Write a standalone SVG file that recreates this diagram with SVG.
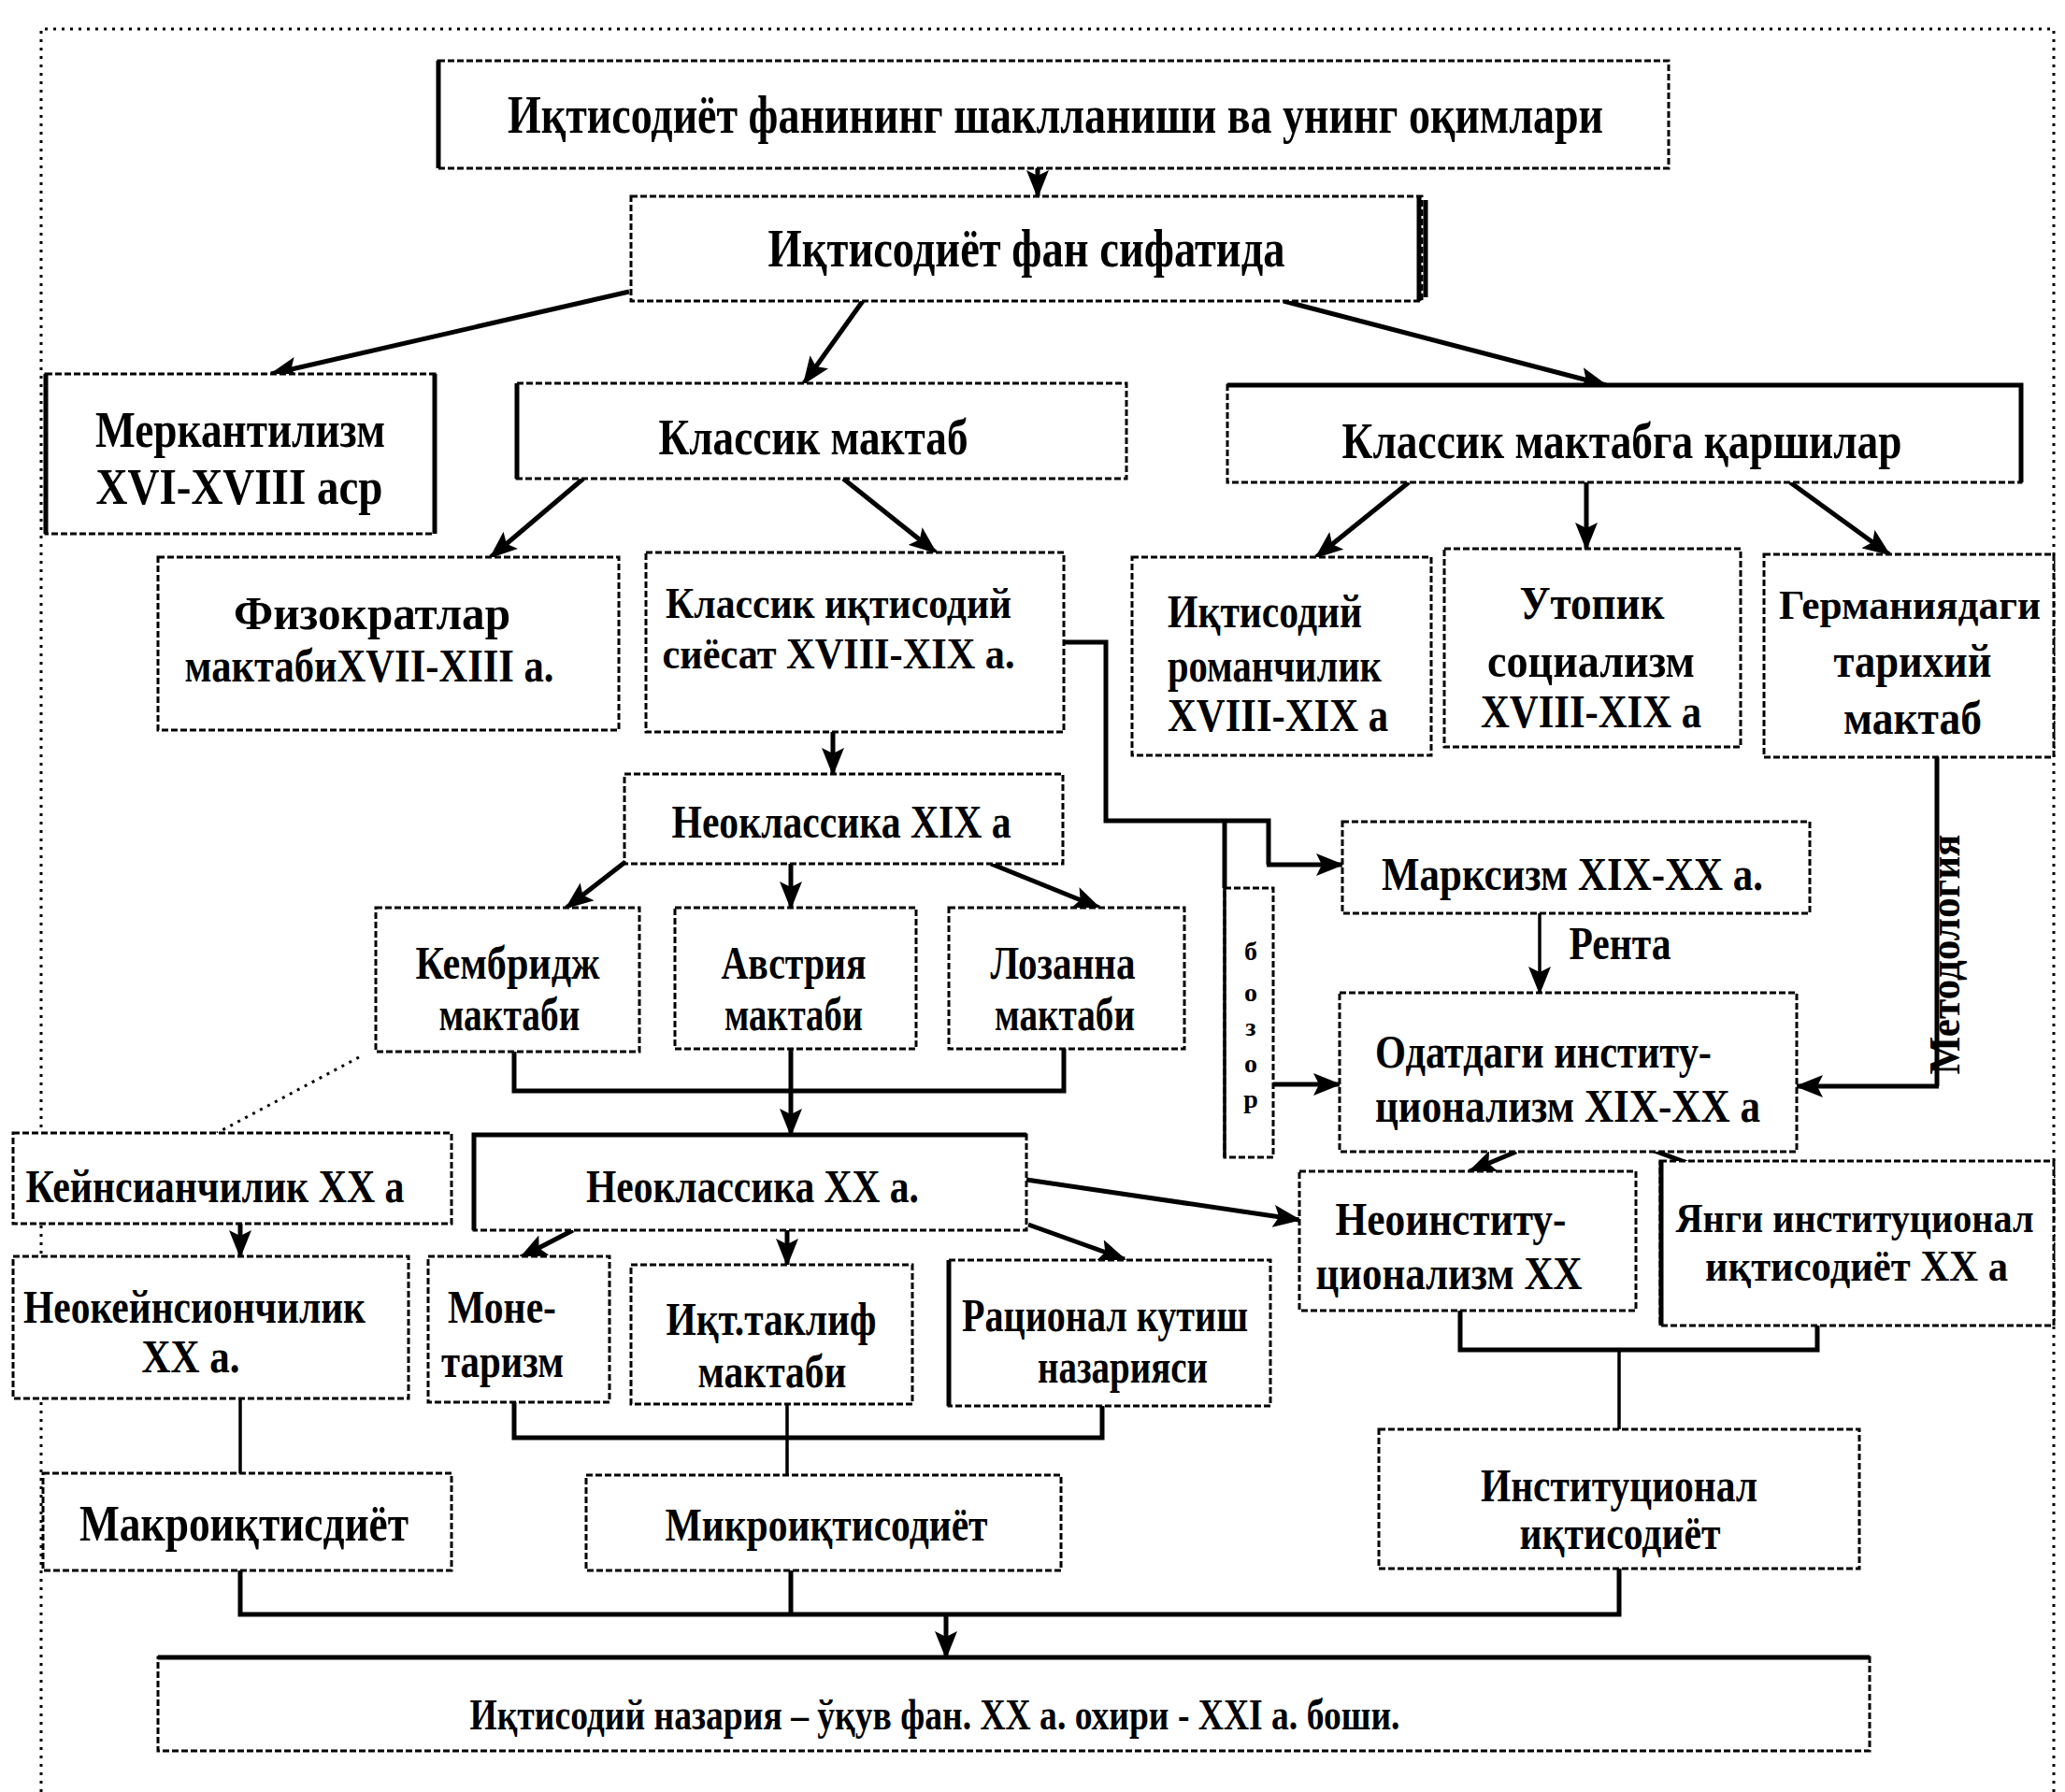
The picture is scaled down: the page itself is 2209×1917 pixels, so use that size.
<svg xmlns="http://www.w3.org/2000/svg" width="2209" height="1917" viewBox="0 0 2209 1917">
<defs>
<marker id="ah" markerUnits="userSpaceOnUse" markerWidth="30" markerHeight="24" refX="28" refY="12" orient="auto">
<path d="M0,0 L30,12 L0,24 L6,12 Z" fill="#000"/>
</marker>
<style>
.box{fill:#fff;stroke:#000;stroke-width:3;stroke-dasharray:7 3}
.hv{fill:none;stroke:#000;stroke-width:5}
.ln{fill:none;stroke:#000;stroke-width:5}
.lt{fill:none;stroke:#000;stroke-width:3.5}
.ar{fill:none;stroke:#000;stroke-width:5;marker-end:url(#ah)}
.art{fill:none;stroke:#000;stroke-width:3.5;marker-end:url(#ah)}
.dot{fill:none;stroke:#000;stroke-width:3;stroke-dasharray:3 6}
text{font-family:"Liberation Serif","DejaVu Serif",serif;font-weight:bold;fill:#000;text-anchor:middle}
.t50{font-size:58px}
.t46{font-size:54px}
.t42{font-size:50px}
.t40{font-size:46px}
.t38{font-size:44px}
.st{text-anchor:start}
.b{font-size:28px}
</style>
</defs>
<rect width="2209" height="1917" fill="#fff"/>
<path class="dot" d="M44,1917 V31 H2197 V1917"/>

<g id="connectors">
<path class="ar" d="M1110,180 V210"/>
<path class="ar" d="M673,312 L290,400"/>
<path class="ar" d="M923,322 L860,410"/>
<path class="ar" d="M1373,322 L1718,412"/>
<path class="ar" d="M624,512 L525,596"/>
<path class="ar" d="M902,512 L1001,591"/>
<path class="ar" d="M1507,516 L1408,596"/>
<path class="ar" d="M1697,516 V587"/>
<path class="ar" d="M1915,516 L2021,593"/>
<path class="ar" d="M891,783 V828"/>
<path class="ar" d="M669,922 L606,971"/>
<path class="ar" d="M846,924 V971"/>
<path class="ar" d="M1060,924 L1176,971"/>
<path class="ln" d="M550,1125 V1167 H1138 V1122"/>
<path class="ar" d="M846,1122 V1214"/>
<path class="dot" d="M384,1131 L232,1212"/>
<path class="ln" d="M1138,687 H1183 V878 H1357 V925"/>
<path class="ar" d="M1355,925 H1436"/>
<path class="ln" d="M1310,876 V950"/>
<path class="ar" d="M1362,1160 H1433"/>
<path class="art" d="M1647,977 V1062"/>
<path class="ln" d="M2072,810 V1162"/>
<path class="ar" d="M2074,1162 H1922"/>
<path class="ar" d="M1622,1232 L1572,1253"/>
<path class="ln" d="M1767,1230 L1805,1244"/>
<path class="ar" d="M257,1309 V1344"/>
<path class="lt" d="M257,1496 V1576"/>
<path class="ar" d="M613,1316 L557,1345"/>
<path class="ar" d="M842,1316 V1353"/>
<path class="ar" d="M1100,1310 L1203,1347"/>
<path class="ar" d="M1098,1262 L1390,1305"/>
<path class="ln" d="M550,1500 V1538 H1179 V1504"/>
<path class="lt" d="M842,1502 V1578"/>
<path class="ln" d="M1562,1402 V1444 H1944 V1418"/>
<path class="lt" d="M1732,1444 V1529"/>
<path class="ln" d="M257,1680 V1727 H1732 V1678"/>
<path class="ln" d="M846,1680 V1727"/>
<path class="ar" d="M1012,1727 V1773"/>
</g>

<text class="t40" transform="translate(2096,1021) rotate(-90)" textLength="257" lengthAdjust="spacingAndGlyphs">Методология</text>
<text class="t42" x="1733" y="1026" textLength="109" lengthAdjust="spacingAndGlyphs">Рента</text>

<g id="n_title">
<rect class="box" x="469" y="65" width="1316" height="115"/>
<path class="hv" d="M469,65 V180"/>
<text class="t50" x="1129" y="142" textLength="1172" lengthAdjust="spacingAndGlyphs">Иқтисодиёт фанининг шаклланиши ва унинг оқимлари</text>
</g>
<g id="n_science">
<rect class="box" x="675" y="210" width="846" height="112"/>
<path class="hv" d="M1518,210 V322 M1525,214 V318"/>
<text class="t50" x="1098" y="285" textLength="553" lengthAdjust="spacingAndGlyphs">Иқтисодиёт фан сифатида</text>
</g>
<g id="n_merc">
<rect class="box" x="49" y="400" width="416" height="171"/>
<path class="hv" d="M465,400 V571 M49,400 V571"/>
<text class="t46" x="257" y="478" textLength="310" lengthAdjust="spacingAndGlyphs">Меркантилизм</text>
<text class="t46" x="256" y="539" textLength="307" lengthAdjust="spacingAndGlyphs">XVI-XVIII аср</text>
</g>
<g id="n_classic">
<rect class="box" x="553" y="410" width="652" height="102"/>
<path class="hv" d="M553,410 V512"/>
<text class="t46" x="870" y="486" textLength="331" lengthAdjust="spacingAndGlyphs">Классик мактаб</text>
</g>
<g id="n_opp">
<rect class="box" x="1313" y="412" width="849" height="104"/>
<path class="hv" d="M1313,412 H2162 V516"/>
<text class="t46" x="1735" y="490" textLength="599" lengthAdjust="spacingAndGlyphs">Классик мактабга қаршилар</text>
</g>
<g id="n_physio">
<rect class="box" x="169" y="596" width="493" height="185"/>
<text class="t42" x="398" y="673" textLength="296" lengthAdjust="spacingAndGlyphs">Физократлар</text>
<text class="t42" x="395" y="729" textLength="395" lengthAdjust="spacingAndGlyphs">мактабиXVII-XIII а.</text>
</g>
<g id="n_classpol">
<rect class="box" x="691" y="591" width="447" height="192"/>
<text class="t40" x="897" y="661" textLength="370" lengthAdjust="spacingAndGlyphs">Классик иқтисодий</text>
<text class="t40" x="897" y="715" textLength="377" lengthAdjust="spacingAndGlyphs">сиёсат XVIII-XIX а.</text>
</g>
<g id="n_neo19">
<rect class="box" x="668" y="828" width="469" height="96"/>
<text class="t42" x="900" y="896" textLength="363" lengthAdjust="spacingAndGlyphs">Неоклассика XIX а</text>
</g>
<g id="n_camb">
<rect class="box" x="402" y="971" width="282" height="154"/>
<text class="t42" x="543" y="1047" textLength="197" lengthAdjust="spacingAndGlyphs">Кембридж</text>
<text class="t42" x="545" y="1102" textLength="151" lengthAdjust="spacingAndGlyphs">мактаби</text>
</g>
<g id="n_austria">
<rect class="box" x="722" y="971" width="258" height="151"/>
<text class="t42" x="849" y="1047" textLength="155" lengthAdjust="spacingAndGlyphs">Австрия</text>
<text class="t42" x="849" y="1102" textLength="148" lengthAdjust="spacingAndGlyphs">мактаби</text>
</g>
<g id="n_lausanne">
<rect class="box" x="1015" y="971" width="252" height="151"/>
<text class="t42" x="1137" y="1047" textLength="155" lengthAdjust="spacingAndGlyphs">Лозанна</text>
<text class="t42" x="1139" y="1102" textLength="150" lengthAdjust="spacingAndGlyphs">мактаби</text>
</g>
<g id="n_roman">
<rect class="box" x="1211" y="596" width="320" height="212"/>
<text class="t42 st" x="1249" y="671" textLength="208" lengthAdjust="spacingAndGlyphs">Иқтисодий</text>
<text class="t42 st" x="1249" y="729" textLength="229" lengthAdjust="spacingAndGlyphs">романчилик</text>
<text class="t42 st" x="1249" y="782" textLength="236" lengthAdjust="spacingAndGlyphs">XVIII-XIX а</text>
</g>
<g id="n_utopia">
<rect class="box" x="1545" y="587" width="317" height="212"/>
<text class="t42" x="1703" y="662" textLength="155" lengthAdjust="spacingAndGlyphs">Утопик</text>
<text class="t42" x="1702" y="724" textLength="222" lengthAdjust="spacingAndGlyphs">социализм</text>
<text class="t42" x="1702" y="778" textLength="236" lengthAdjust="spacingAndGlyphs">XVIII-XIX а</text>
</g>
<g id="n_german">
<rect class="box" x="1887" y="593" width="310" height="217"/>
<text class="t38" x="2043" y="662" textLength="280" lengthAdjust="spacingAndGlyphs">Германиядаги</text>
<text class="t42" x="2046" y="724" textLength="169" lengthAdjust="spacingAndGlyphs">тарихий</text>
<text class="t42" x="2046" y="785" textLength="148" lengthAdjust="spacingAndGlyphs">мактаб</text>
</g>
<g id="n_marx">
<rect class="box" x="1436" y="879" width="500" height="98"/>
<text class="t42" x="1682" y="952" textLength="408" lengthAdjust="spacingAndGlyphs">Марксизм XIX-XX а.</text>
</g>
<g id="n_bozor">
<rect class="box" x="1310" y="950" width="52" height="288"/>
<path class="lt" d="M1310,950 V1238"/>
<text class="b" x="1338" y="1027">б</text>
<text class="b" x="1338" y="1071">о</text>
<text class="b" x="1338" y="1108">з</text>
<text class="b" x="1338" y="1147">о</text>
<text class="b" x="1338" y="1185">р</text>
</g>
<g id="n_usual">
<rect class="box" x="1433" y="1062" width="489" height="170"/>
<text class="t42 st" x="1471" y="1142" textLength="360" lengthAdjust="spacingAndGlyphs">Одатдаги институ-</text>
<text class="t42 st" x="1471" y="1200" textLength="412" lengthAdjust="spacingAndGlyphs">ционализм XIX-XX а</text>
</g>
<g id="n_keynes">
<rect class="box" x="14" y="1212" width="469" height="97"/>
<text class="t42" x="230" y="1286" textLength="405" lengthAdjust="spacingAndGlyphs">Кейнсианчилик XX а</text>
</g>
<g id="n_neokeynes">
<rect class="box" x="14" y="1344" width="423" height="152"/>
<text class="t42" x="208" y="1415" textLength="366" lengthAdjust="spacingAndGlyphs">Неокейнсиончилик</text>
<text class="t42" x="204" y="1468" textLength="105" lengthAdjust="spacingAndGlyphs">XX а.</text>
</g>
<g id="n_neo20">
<rect class="box" x="507" y="1214" width="591" height="102"/>
<path class="hv" d="M507,1316 V1214 H1098"/>
<text class="t42" x="805" y="1286" textLength="356" lengthAdjust="spacingAndGlyphs">Неоклассика XX а.</text>
</g>
<g id="n_monet">
<rect class="box" x="458" y="1344" width="194" height="156"/>
<text class="t42 st" x="479" y="1415" textLength="116" lengthAdjust="spacingAndGlyphs">Моне-</text>
<text class="t42 st" x="472" y="1473" textLength="131" lengthAdjust="spacingAndGlyphs">таризм</text>
</g>
<g id="n_supply">
<rect class="box" x="675" y="1353" width="301" height="149"/>
<text class="t42" x="825" y="1428" textLength="225" lengthAdjust="spacingAndGlyphs">Иқт.таклиф</text>
<text class="t42" x="826" y="1484" textLength="159" lengthAdjust="spacingAndGlyphs">мактаби</text>
</g>
<g id="n_rational">
<rect class="box" x="1015" y="1348" width="344" height="156"/>
<path class="hv" d="M1015,1348 V1504"/>
<text class="t42" x="1182" y="1424" textLength="306" lengthAdjust="spacingAndGlyphs">Рационал кутиш</text>
<text class="t42" x="1201" y="1479" textLength="182" lengthAdjust="spacingAndGlyphs">назарияси</text>
</g>
<g id="n_neoinst">
<rect class="box" x="1390" y="1253" width="360" height="149"/>
<text class="t42" x="1552" y="1321" textLength="247" lengthAdjust="spacingAndGlyphs">Неоинститу-</text>
<text class="t42" x="1550" y="1379" textLength="285" lengthAdjust="spacingAndGlyphs">ционализм XX</text>
</g>
<g id="n_newinst">
<rect class="box" x="1776" y="1242" width="421" height="176"/>
<path class="hv" d="M1777,1242 V1418"/>
<text class="t38" x="1984" y="1318" textLength="383" lengthAdjust="spacingAndGlyphs">Янги институционал</text>
<text class="t40" x="1986" y="1370" textLength="324" lengthAdjust="spacingAndGlyphs">иқтисодиёт XX а</text>
</g>
<g id="n_macro">
<rect class="box" x="46" y="1576" width="437" height="104"/>
<text class="t46" x="261" y="1648" textLength="352" lengthAdjust="spacingAndGlyphs">Макроиқтисдиёт</text>
</g>
<g id="n_micro">
<rect class="box" x="627" y="1578" width="508" height="102"/>
<text class="t42" x="884" y="1648" textLength="345" lengthAdjust="spacingAndGlyphs">Микроиқтисодиёт</text>
</g>
<g id="n_inst">
<rect class="box" x="1475" y="1529" width="514" height="149"/>
<text class="t42" x="1732" y="1606" textLength="296" lengthAdjust="spacingAndGlyphs">Институционал</text>
<text class="t42" x="1733" y="1657" textLength="215" lengthAdjust="spacingAndGlyphs">иқтисодиёт</text>
</g>
<g id="n_final">
<rect class="box" x="169" y="1773" width="1831" height="100"/>
<path class="hv" d="M169,1773 H2000"/>
<text class="t40" x="1000" y="1850" textLength="995" lengthAdjust="spacingAndGlyphs">Иқтисодий назария – ўқув фан. XX а. охири - XXI а. боши.</text>
</g>
</svg>
